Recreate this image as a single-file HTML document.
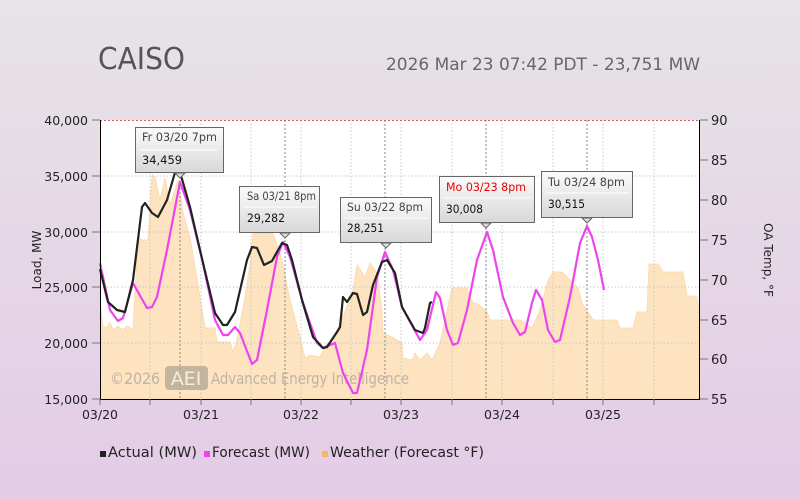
<!DOCTYPE html>
<html><head><meta charset="utf-8"><style>
body{margin:0;width:800px;height:500px;overflow:hidden;background:linear-gradient(#e6e4e6,#e4cbe6);font-family:"DejaVu Sans",sans-serif}
svg{position:absolute;left:0;top:0}
</style></head><body>
<svg width="800" height="500" viewBox="0 0 800 500" font-family="DejaVu Sans, Liberation Sans, sans-serif">
<defs>
<linearGradient id="tg" x1="0" y1="0" x2="0" y2="1"><stop offset="0" stop-color="#fbfbfb"/><stop offset="1" stop-color="#d8d8d8"/></linearGradient>
</defs>
<text x="98" y="69" font-size="30" fill="#555" textLength="87" lengthAdjust="spacingAndGlyphs">CAISO</text>
<text x="386" y="70" font-size="17" fill="#666" textLength="314" lengthAdjust="spacingAndGlyphs">2026 Mar 23 07:42 PDT - 23,751 MW</text>
<rect x="100" y="120" width="600" height="279" fill="#fff"/>
<polygon fill="#fde3c0" stroke="#fcd7a8" stroke-width="0.8" points="100,399 100,298 103,327 107,327 110,322 113,330 118,326 122,330 128,326 133,330 138,237 142,240 148,240 152,175 155,177 160,200 165,178 170,205 178,180 183,213 190,237 200,297 205,328 215,328 217,342 230,342 233,352 237,340 245,297 250,263 253,233 273,233 282,260 290,300 300,337 305,358 310,355 320,357 327,343 333,343 338,330 353,290 357,265 365,277 370,263 377,273 382,310 383,333 392,337 402,343 403,358 412,360 415,353 420,360 427,353 432,360 440,343 450,297 452,288 467,288 473,303 478,304 487,312 490,320 520,320 532,328 540,310 548,280 553,272 562,272 570,280 578,288 582,303 593,320 617,320 620,328 633,328 637,312 647,312 649,264 658,264 663,272 683,272 687,296 697,296 700,320 700,399"/>
<g stroke="#c8c8c8" stroke-dasharray="1.5,2" stroke-width="1">
<line x1="100" y1="176" x2="700" y2="176"/><line x1="100" y1="232" x2="700" y2="232"/><line x1="100" y1="287" x2="700" y2="287"/><line x1="100" y1="343" x2="700" y2="343"/>
<line x1="150" y1="120" x2="150" y2="399"/><line x1="201" y1="120" x2="201" y2="399"/><line x1="251" y1="120" x2="251" y2="399"/><line x1="301" y1="120" x2="301" y2="399"/><line x1="351" y1="120" x2="351" y2="399"/><line x1="401" y1="120" x2="401" y2="399"/><line x1="452" y1="120" x2="452" y2="399"/><line x1="502" y1="120" x2="502" y2="399"/><line x1="553" y1="120" x2="553" y2="399"/><line x1="603" y1="120" x2="603" y2="399"/><line x1="654" y1="120" x2="654" y2="399"/>
</g>
<g stroke="#888" stroke-dasharray="2,2" stroke-width="1">
<line x1="180" y1="120" x2="180" y2="399"/><line x1="285" y1="120" x2="285" y2="399"/><line x1="385" y1="120" x2="385" y2="399"/><line x1="486" y1="120" x2="486" y2="399"/><line x1="587" y1="120" x2="587" y2="399"/>
</g>
<line x1="100" y1="120.5" x2="700" y2="120.5" stroke="#c66" stroke-dasharray="2,2"/>
<text x="110" y="384" font-size="16" fill="#b0a89e" opacity="0.8" textLength="50" lengthAdjust="spacingAndGlyphs">©2026</text>
<rect x="165" y="366" width="43" height="24" rx="4" fill="#b0a490" opacity="0.75"/>
<text x="186" y="385" font-size="19" fill="#f3ede4" text-anchor="middle">AEI</text>
<text x="211" y="384" font-size="16" fill="#b0a89e" opacity="0.8" textLength="198" lengthAdjust="spacingAndGlyphs">Advanced Energy Intelligence</text>
<polyline fill="none" stroke="#ee44ee" stroke-width="2.2" stroke-linejoin="round" points="100,263 110,310 118,321 123,318 133,283 138,292 147,308 152,307 157,297 167,250 180,182 190,210 203,263 215,320 223,335 228,335 235,327 240,333 252,364 257,360 267,310 277,257 283,242 290,257 303,303 317,343 323,348 335,343 343,373 353,393 357,393 367,350 377,277 385,252 393,270 402,307 420,340 427,330 436,292 440,298 447,330 453,345 458,343 467,310 477,260 487,232 493,250 503,297 513,323 520,335 525,332 532,303 536,290 542,300 548,330 555,342 560,340 570,297 580,243 587,226 592,237 598,260 604,290"/>
<polyline fill="none" stroke="#222" stroke-width="2.2" stroke-linejoin="round" points="100,269 108,302 117,310 125,312 133,280 142,207 145,203 152,213 158,217 167,200 176,169 180,172 190,207 203,263 215,313 223,325 227,325 235,312 247,260 252,247 257,248 264,265 272,261 282,243 287,245 292,260 302,300 313,337 323,348 327,347 337,332 340,327 343,297 347,302 353,293 357,294 363,315 367,312 373,285 382,262 387,260 395,273 402,307 415,330 423,333 425,328 430,303 432,302"/>
<line x1="100.5" y1="120" x2="100.5" y2="399" stroke="#000"/>
<line x1="699.5" y1="120" x2="699.5" y2="399" stroke="#000"/>
<line x1="100" y1="399.5" x2="700" y2="399.5" stroke="#000"/>
<g stroke="#777"><line x1="92" y1="120" x2="100" y2="120"/><line x1="92" y1="176" x2="100" y2="176"/><line x1="92" y1="232" x2="100" y2="232"/><line x1="92" y1="287" x2="100" y2="287"/><line x1="92" y1="343" x2="100" y2="343"/><line x1="92" y1="399" x2="100" y2="399"/>
<line x1="700" y1="120" x2="708" y2="120"/><line x1="700" y1="160" x2="708" y2="160"/><line x1="700" y1="200" x2="708" y2="200"/><line x1="700" y1="240" x2="708" y2="240"/><line x1="700" y1="280" x2="708" y2="280"/><line x1="700" y1="320" x2="708" y2="320"/><line x1="700" y1="359" x2="708" y2="359"/><line x1="700" y1="399" x2="708" y2="399"/>
<line x1="100" y1="399" x2="100" y2="405"/><line x1="150" y1="399" x2="150" y2="405"/><line x1="201" y1="399" x2="201" y2="405"/><line x1="251" y1="399" x2="251" y2="405"/><line x1="301" y1="399" x2="301" y2="405"/><line x1="351" y1="399" x2="351" y2="405"/><line x1="401" y1="399" x2="401" y2="405"/><line x1="452" y1="399" x2="452" y2="405"/><line x1="502" y1="399" x2="502" y2="405"/><line x1="553" y1="399" x2="553" y2="405"/><line x1="603" y1="399" x2="603" y2="405"/><line x1="654" y1="399" x2="654" y2="405"/></g>
<g font-size="12.5" fill="#222" text-anchor="end"><text x="88" y="125">40,000</text><text x="88" y="181">35,000</text><text x="88" y="237">30,000</text><text x="88" y="292">25,000</text><text x="88" y="348">20,000</text><text x="88" y="404">15,000</text></g>
<g font-size="13" fill="#222"><text x="711" y="125">90</text><text x="711" y="165">85</text><text x="711" y="205">80</text><text x="711" y="245">75</text><text x="711" y="285">70</text><text x="711" y="325">65</text><text x="711" y="364">60</text><text x="711" y="404">55</text></g>
<g font-size="12.5" fill="#222" text-anchor="middle"><text x="100" y="419">03/20</text><text x="201" y="419">03/21</text><text x="301" y="419">03/22</text><text x="401" y="419">03/23</text><text x="502" y="419">03/24</text><text x="603" y="419">03/25</text></g>
<text transform="translate(41,260) rotate(-90)" font-size="12" fill="#222" text-anchor="middle">Load, MW</text>
<text transform="translate(764,260) rotate(90)" font-size="12" fill="#222" text-anchor="middle">OA Temp, °F</text>
<g font-size="11.5">
<g><rect x="135.5" y="127.5" width="88" height="45" fill="url(#tg)" stroke="#666"/><polygon points="175,173 180,178 185,173" fill="#ddd" stroke="#666"/><line x1="140" y1="150" x2="218" y2="150" stroke="#fff"/><text x="142" y="141" fill="#444" textLength="75" lengthAdjust="spacingAndGlyphs">Fr 03/20 7pm</text><text x="142" y="164" fill="#111" textLength="40" lengthAdjust="spacingAndGlyphs">34,459</text></g>
<g><rect x="239.5" y="186.5" width="80" height="46" fill="url(#tg)" stroke="#666"/><polygon points="280,233 285,238 290,233" fill="#ddd" stroke="#666"/><line x1="243" y1="207" x2="316" y2="207" stroke="#fff"/><text x="247" y="200" fill="#444" textLength="69" lengthAdjust="spacingAndGlyphs">Sa 03/21 8pm</text><text x="247" y="222" fill="#111" textLength="38" lengthAdjust="spacingAndGlyphs">29,282</text></g>
<g><rect x="340.5" y="197.5" width="91" height="45" fill="url(#tg)" stroke="#666"/><polygon points="381,243 386,248 391,243" fill="#ddd" stroke="#666"/><line x1="344" y1="218" x2="428" y2="218" stroke="#fff"/><text x="347" y="211" fill="#444" textLength="76" lengthAdjust="spacingAndGlyphs">Su 03/22 8pm</text><text x="347" y="232" fill="#111" textLength="37" lengthAdjust="spacingAndGlyphs">28,251</text></g>
<g><rect x="439.5" y="176.5" width="95" height="46" fill="url(#tg)" stroke="#666"/><polygon points="481,223 486,228 491,223" fill="#ddd" stroke="#666"/><line x1="443" y1="198" x2="531" y2="198" stroke="#fff"/><text x="446" y="191" fill="#e00" textLength="80" lengthAdjust="spacingAndGlyphs">Mo 03/23 8pm</text><text x="446" y="213" fill="#111" textLength="37" lengthAdjust="spacingAndGlyphs">30,008</text></g>
<g><rect x="541.5" y="171.5" width="91" height="46" fill="url(#tg)" stroke="#666"/><polygon points="582,218 587,223 592,218" fill="#ddd" stroke="#666"/><line x1="545" y1="193" x2="629" y2="193" stroke="#fff"/><text x="548" y="186" fill="#444" textLength="77" lengthAdjust="spacingAndGlyphs">Tu 03/24 8pm</text><text x="548" y="208" fill="#111" textLength="37" lengthAdjust="spacingAndGlyphs">30,515</text></g>
</g>
<g font-size="14" fill="#222">
<rect x="100" y="451" width="6" height="6" fill="#222"/><text x="108" y="457" textLength="89" lengthAdjust="spacingAndGlyphs">Actual (MW)</text>
<rect x="204" y="451" width="6" height="6" fill="#ee44ee"/><text x="212" y="457" textLength="98" lengthAdjust="spacingAndGlyphs">Forecast (MW)</text>
<rect x="322" y="451" width="6" height="6" fill="#f5b860"/><text x="330" y="457" textLength="154" lengthAdjust="spacingAndGlyphs">Weather (Forecast °F)</text>
</g>
</svg>
</body></html>
